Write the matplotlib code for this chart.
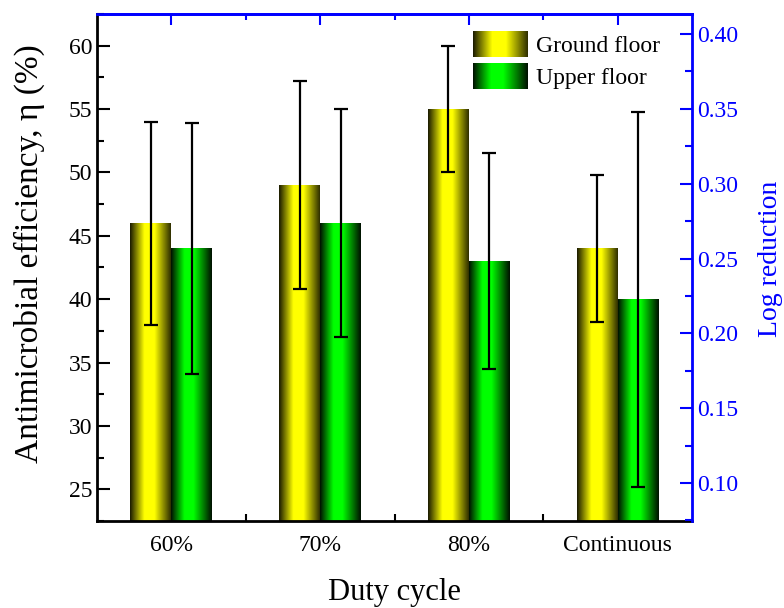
import numpy as np
import matplotlib
matplotlib.use("Agg")
import matplotlib.pyplot as plt
from matplotlib.patches import Rectangle
from matplotlib.legend_handler import HandlerBase
from matplotlib.image import BboxImage
from matplotlib.transforms import Bbox, TransformedBbox
from matplotlib.ticker import MultipleLocator, FixedLocator

plt.rcParams['font.family'] = ['Liberation Serif', 'DejaVu Serif']

categories = ["60%", "70%", "80%", "Continuous"]
ground = [46, 49, 55, 44]
ground_err = [8.0, 8.2, 5.0, 5.8]
upper = [44, 46, 43, 40]
upper_err = [9.9, 9.0, 8.5, 14.8]


def gradient(rgb, knots, levels):
    t = np.linspace(0, 1, 256)
    f = np.interp(t, knots, levels)
    img = np.ones((1, 256, 3))
    for i in range(3):
        img[0, :, i] = rgb[i] * f
    return img


yellow_img = gradient((1, 1, 0), [0, 0.35, 0.6, 1], [0.1, 1, 1, 0.18])
green_img = gradient((0, 1, 0), [0, 0.33, 0.55, 1], [0.06, 1, 1, 0.06])


class GradHandler(HandlerBase):
    def __init__(self, img):
        super().__init__()
        self.img = img

    def create_artists(self, legend, orig_handle, xdescent, ydescent,
                       width, height, fontsize, trans):
        bb = TransformedBbox(Bbox.from_bounds(-xdescent, -ydescent, width, height), trans)
        im = BboxImage(bb, interpolation='bilinear')
        im.set_data(self.img)
        return [im]


fig = plt.figure(figsize=(7.84, 6.08), dpi=100)
ax = fig.add_axes([0.1237, 0.1431, 0.7590, 0.8339])

x = np.arange(len(categories))
w = 0.275
ylo, yhi = 22.5, 62.5

bars_g = ax.bar(x - w / 2, ground, w, color='none', edgecolor='none')
bars_u = ax.bar(x + w / 2, upper, w, color='none', edgecolor='none')
for bars, img in [(bars_g, yellow_img), (bars_u, green_img)]:
    for b in bars:
        x0 = b.get_x()
        ax.imshow(img, extent=[x0, x0 + b.get_width(), ylo, b.get_height()],
                  aspect='auto', interpolation='bilinear', zorder=2)

ax.errorbar(x - w / 2, ground, yerr=ground_err, fmt='none', ecolor='black',
            elinewidth=1.6, capsize=5, capthick=1.6, zorder=3)
ax.errorbar(x + w / 2, upper, yerr=upper_err, fmt='none', ecolor='black',
            elinewidth=1.6, capsize=5, capthick=1.6, zorder=3)

ax.set_xlim(-0.5, 3.5)
ax.set_ylim(ylo, yhi)
ax.set_xticks(x)
ax.set_xticklabels(categories)
ax.xaxis.set_minor_locator(FixedLocator([0.5, 1.5, 2.5]))
ax.tick_params(axis='x', which='major', length=0, pad=10, labelsize=17)
ax.tick_params(axis='x', which='minor', direction='in', length=5, width=1.5)
ax.yaxis.set_major_locator(MultipleLocator(5))
ax.yaxis.set_minor_locator(MultipleLocator(2.5))
ax.tick_params(axis='y', which='major', direction='in', length=9, width=1.5, labelsize=17)
ax.tick_params(axis='y', which='minor', direction='in', length=5, width=1.5)
ax.set_ylabel("Antimicrobial efficiency, η (%)", fontsize=24)
ax.yaxis.set_label_coords(-0.087, 0.527)
ax.set_xlabel("Duty cycle", fontsize=22, labelpad=16)

for s in ['left', 'bottom']:
    ax.spines[s].set_linewidth(2)
ax.spines['top'].set_color('blue')
ax.spines['top'].set_linewidth(2)

top = ax.secondary_xaxis('top')
top.set_xticks(x)
top.xaxis.set_minor_locator(FixedLocator([0.5, 1.5, 2.5]))
top.tick_params(which='major', direction='in', length=8, width=1.5, color='blue', labeltop=False)
top.tick_params(which='minor', direction='in', length=4, width=1.5, color='blue')
top.spines['top'].set_color('blue')
top.spines['top'].set_linewidth(2)

ax2 = ax.twinx()
ax2.set_ylim(0.0746, 0.4134)
ax2.yaxis.set_major_locator(MultipleLocator(0.05))
ax2.yaxis.set_minor_locator(MultipleLocator(0.025))
ax2.yaxis.set_major_formatter(matplotlib.ticker.FormatStrFormatter('%.2f'))
ax2.tick_params(axis='y', which='major', direction='in', length=9, width=1.5,
                color='blue', labelcolor='blue', labelsize=17)
ax2.tick_params(axis='y', which='minor', direction='in', length=5, width=1.5, color='blue')
for s in ['left', 'bottom', 'top']:
    ax2.spines[s].set_visible(False)
ax2.spines['right'].set_color('blue')
ax2.spines['right'].set_linewidth(2)
ax2.set_ylabel("Log reduction", fontsize=20, color='blue')
ax2.yaxis.set_label_coords(1.111, 0.517)

h_g = Rectangle((0, 0), 1, 1)
h_u = Rectangle((0, 0), 1, 1)
ax.legend([h_g, h_u], ["Ground floor", "Upper floor"],
          handler_map={h_g: GradHandler(yellow_img), h_u: GradHandler(green_img)},
          loc='upper left', bbox_to_anchor=(0.632, 0.966), frameon=False,
          fontsize=17, handlelength=2.3, handleheight=1.3, handletextpad=0.35,
          labelspacing=0.25, borderpad=0, borderaxespad=0)

fig.savefig("out.png", dpi=100)
